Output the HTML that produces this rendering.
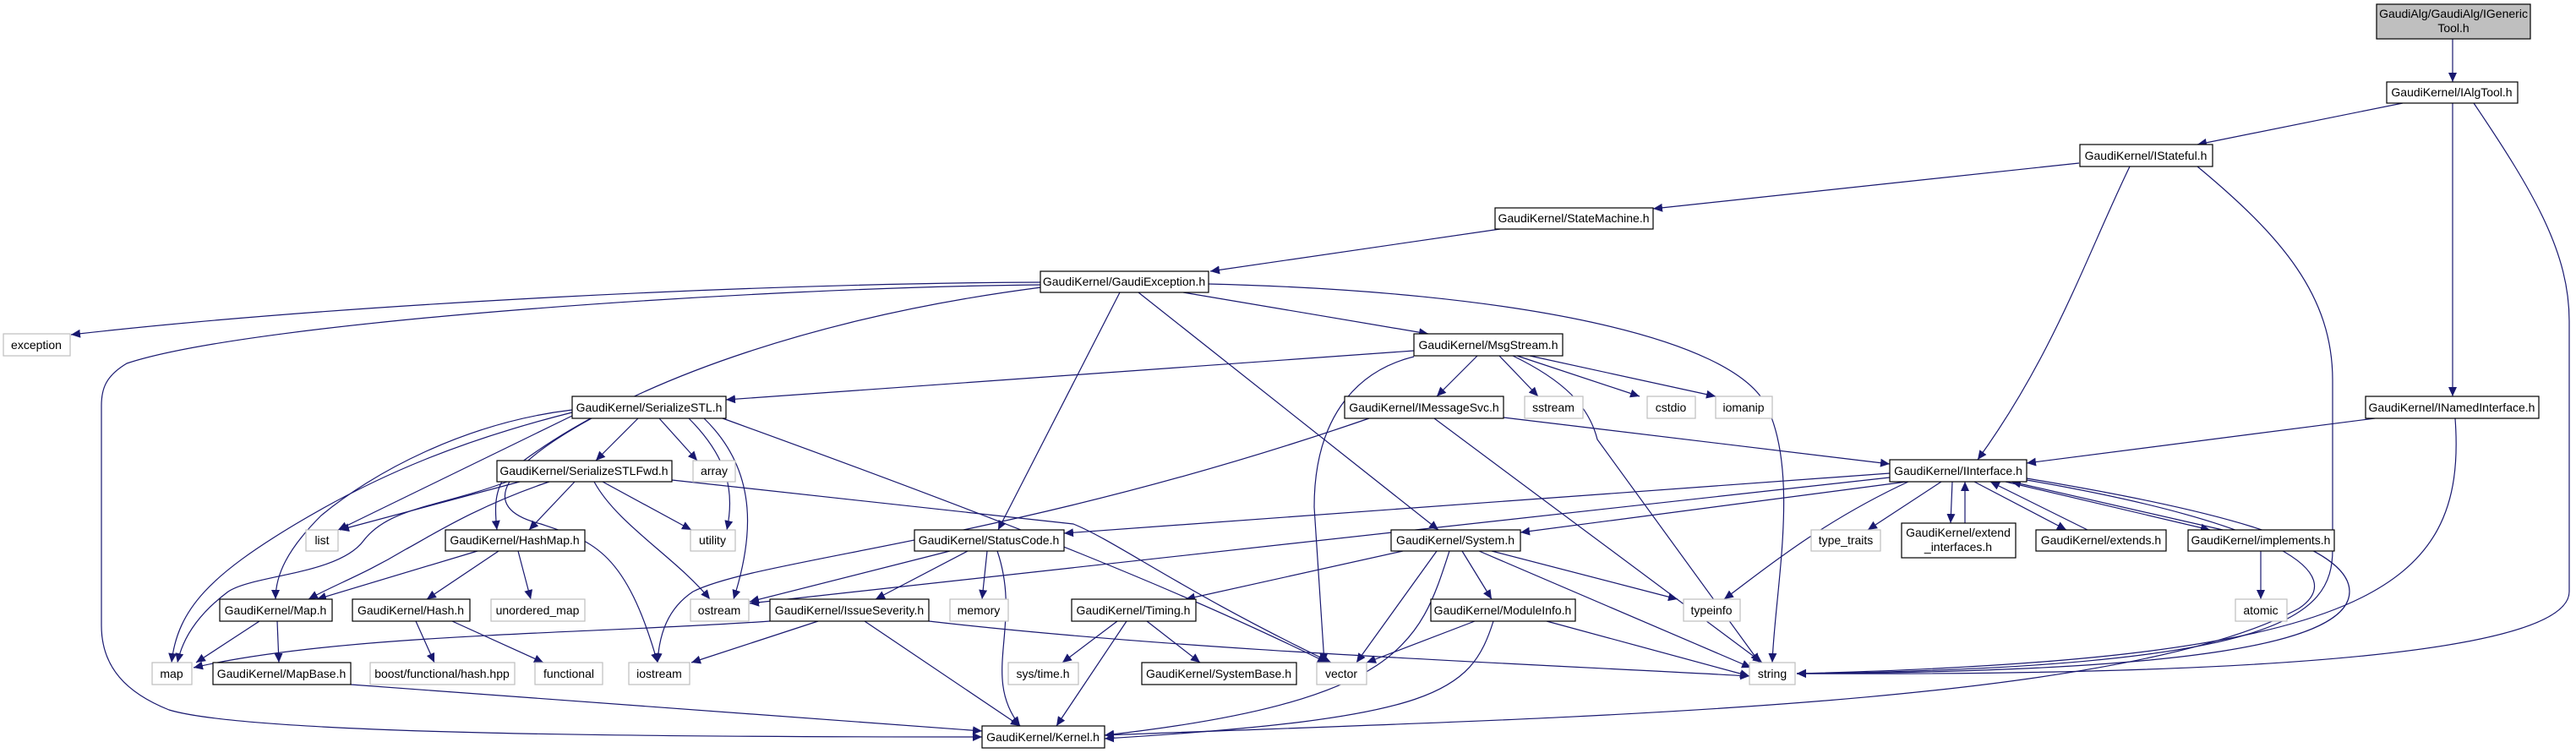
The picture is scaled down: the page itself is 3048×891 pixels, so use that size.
<!DOCTYPE html>
<html><head><meta charset="utf-8"><style>
html,body{margin:0;padding:0;background:#fff}
svg{display:block}
text{font-family:"Liberation Sans",sans-serif;font-size:14px;fill:#000}
.e{fill:none;stroke:#191970;stroke-width:1.2}
.n{fill:#fff;stroke:#000;stroke-width:1.2}
.g{fill:#fff;stroke:#bfbfbf;stroke-width:1.2}
</style></head><body>
<svg width="3048" height="891" viewBox="0 0 3048 891" xmlns="http://www.w3.org/2000/svg">
<defs><marker id="a" markerUnits="userSpaceOnUse" markerWidth="12" markerHeight="10" refX="11" refY="5" orient="auto"><path d="M0,0 L11,5 L0,10 z" fill="#191970"/></marker></defs>
<g class="e" marker-end="url(#a)">
<path d="M2902,46 L2902,97"/>
<path d="M2843,122 L2600,171"/>
<path d="M2902,122 L2902,469"/>
<path d="M2927,122 C3000,230 3040,300 3040,380 L3040,700 C3040,770 2700,800 2126,797"/>
<path d="M2460,193 L1956,247"/>
<path d="M2520,197 C2470,300 2430,420 2340,544"/>
<path d="M2600,197 C2700,280 2760,350 2760,450 L2760,650 C2760,730 2700,790 2126,797"/>
<path d="M1775,271 L1432,321"/>
<path d="M1232,334 C900,335 400,360 84,396"/>
<path d="M1232,337 C900,340 300,380 150,430 C125,445 120,460 120,480 L120,740 C120,790 150,820 200,840 C300,870 800,872 1162,872"/>
<path d="M1232,340 C1000,370 750,440 600,560 C585,580 585,600 588,627"/>
<path d="M1325,346 L1181,627"/>
<path d="M1347,346 L1702,627"/>
<path d="M1400,346 L1690,395"/>
<path d="M1430,336 C1800,345 2050,400 2090,480 C2130,560 2100,700 2097,784"/>
<path d="M1673,415 L859,473"/>
<path d="M1748,421 L1700,469"/>
<path d="M1774,421 L1820,469"/>
<path d="M1795,421 L1940,469"/>
<path d="M1810,421 L2030,469"/>
<path d="M1790,421 C1850,450 1880,480 1890,520 L2082,784"/>
<path d="M1673,422 C1600,440 1555,500 1555,600 L1567,784"/>
<path d="M1779,494 L2236,549"/>
<path d="M1697,495 L2085,784"/>
<path d="M1620,495 C1200,640 900,660 820,700 C790,720 780,750 778,784"/>
<path d="M755,495 L705,545"/>
<path d="M780,495 L825,545"/>
<path d="M815,495 C860,540 870,580 860,627"/>
<path d="M833,495 C900,560 890,640 868,709"/>
<path d="M855,495 C1200,620 1400,700 1570,784"/>
<path d="M677,488 C550,520 450,560 350,620 C250,680 210,720 203,784"/>
<path d="M677,492 L400,627"/>
<path d="M677,485 C550,500 440,560 380,610 C340,650 326,680 326,709"/>
<path d="M700,495 C600,550 560,600 640,620 C700,640 740,650 778,784"/>
<path d="M615,570 L402,627"/>
<path d="M600,570 C520,600 460,600 430,640 C400,680 300,680 270,700 C230,730 215,760 210,784"/>
<path d="M650,570 C560,600 500,640 480,650 C430,680 400,690 365,709"/>
<path d="M680,570 L626,627"/>
<path d="M713,570 L818,627"/>
<path d="M703,570 C730,620 800,660 840,709"/>
<path d="M795,568 L1270,620 C1320,640 1400,700 1575,784"/>
<path d="M565,652 L375,709"/>
<path d="M590,652 L505,709"/>
<path d="M613,652 L628,709"/>
<path d="M307,735 L232,784"/>
<path d="M328,735 L330,784"/>
<path d="M492,735 L514,784"/>
<path d="M535,735 L643,784"/>
<path d="M415,810 L1162,865"/>
<path d="M1124,652 L887,712"/>
<path d="M1145,652 L1036,709"/>
<path d="M1168,652 L1162,709"/>
<path d="M1180,652 C1210,740 1160,800 1207,859"/>
<path d="M911,735 C700,750 400,750 229,790"/>
<path d="M968,735 L818,784"/>
<path d="M1023,735 L1207,859"/>
<path d="M1099,735 C1400,770 1800,785 2070,800"/>
<path d="M1322,735 L1257,784"/>
<path d="M1333,735 L1250,859"/>
<path d="M1357,735 L1420,784"/>
<path d="M1660,652 L1403,709"/>
<path d="M1700,652 L1605,784"/>
<path d="M1715,652 C1680,760 1660,830 1307,870"/>
<path d="M1730,652 L1765,709"/>
<path d="M1765,652 L1985,709"/>
<path d="M1750,652 L2072,790"/>
<path d="M1745,735 L1617,784"/>
<path d="M1767,735 C1740,820 1700,850 1307,874"/>
<path d="M1830,735 L2070,800"/>
<path d="M2236,560 L1259,631"/>
<path d="M2236,565 L887,714"/>
<path d="M2256,570 L1799,630"/>
<path d="M2258,570 C2150,620 2080,680 2040,709"/>
<path d="M2297,570 L2210,627"/>
<path d="M2310,570 L2308,619"/>
<path d="M2325,619 L2325,570"/>
<path d="M2336,570 L2445,627"/>
<path d="M2470,627 L2355,570"/>
<path d="M2373,570 L2615,627"/>
<path d="M2630,627 L2380,570"/>
<path d="M2398,566 C2600,600 2780,640 2780,700 C2780,760 2600,795 2126,797"/>
<path d="M2398,568 C2700,620 2780,680 2720,720 C2500,840 1800,850 1307,870"/>
<path d="M2675,652 L2675,709"/>
<path d="M2810,495 L2398,548"/>
<path d="M2905,495 C2920,700 2800,780 2126,797"/>
</g>
<g>
<rect x="2812" y="5" width="182" height="41" style="fill:#bfbfbf;stroke:#000;stroke-width:1.2"/>
<text x="2903" y="21" text-anchor="middle">GaudiAlg/GaudiAlg/IGeneric</text>
<text x="2903" y="38" text-anchor="middle">Tool.h</text>
</g>
<g text-anchor="middle">
<rect class="n" x="2824" y="97" width="155" height="25"/><text x="2901" y="114">GaudiKernel/IAlgTool.h</text>
<rect class="n" x="2461" y="171" width="157" height="26"/><text x="2539" y="189">GaudiKernel/IStateful.h</text>
<rect class="n" x="1769" y="246" width="187" height="25"/><text x="1862" y="263">GaudiKernel/StateMachine.h</text>
<rect class="n" x="1231" y="321" width="199" height="25"/><text x="1330" y="338">GaudiKernel/GaudiException.h</text>
<rect class="g" x="4" y="395" width="79" height="26"/><text x="43" y="413">exception</text>
<rect class="n" x="1673" y="395" width="176" height="26"/><text x="1761" y="413">GaudiKernel/MsgStream.h</text>
<rect class="n" x="677" y="469" width="182" height="26"/><text x="768" y="487">GaudiKernel/SerializeSTL.h</text>
<rect class="n" x="1591" y="469" width="188" height="26"/><text x="1685" y="487">GaudiKernel/IMessageSvc.h</text>
<rect class="g" x="1804" y="469" width="69" height="26"/><text x="1838" y="487">sstream</text>
<rect class="g" x="1949" y="469" width="57" height="26"/><text x="1977" y="487">cstdio</text>
<rect class="g" x="2030" y="469" width="67" height="26"/><text x="2063" y="487">iomanip</text>
<rect class="n" x="2799" y="469" width="205" height="26"/><text x="2901" y="487">GaudiKernel/INamedInterface.h</text>
<rect class="n" x="588" y="545" width="207" height="25"/><text x="691" y="562">GaudiKernel/SerializeSTLFwd.h</text>
<rect class="g" x="820" y="545" width="50" height="25"/><text x="845" y="562">array</text>
<rect class="n" x="2236" y="544" width="162" height="26"/><text x="2317" y="562">GaudiKernel/IInterface.h</text>
<rect class="g" x="362" y="627" width="38" height="25"/><text x="381" y="644">list</text>
<rect class="n" x="527" y="627" width="165" height="25"/><text x="609" y="644">GaudiKernel/HashMap.h</text>
<rect class="g" x="817" y="627" width="53" height="25"/><text x="843" y="644">utility</text>
<rect class="n" x="1082" y="627" width="177" height="25"/><text x="1170" y="644">GaudiKernel/StatusCode.h</text>
<rect class="n" x="1646" y="627" width="153" height="25"/><text x="1722" y="644">GaudiKernel/System.h</text>
<rect class="g" x="2143" y="627" width="82" height="25"/><text x="2184" y="644">type_traits</text>
<rect class="n" x="2250" y="619" width="135" height="41"/><text x="2317" y="635">GaudiKernel/extend</text><text x="2317" y="652">_interfaces.h</text>
<rect class="n" x="2409" y="627" width="154" height="25"/><text x="2486" y="644">GaudiKernel/extends.h</text>
<rect class="n" x="2589" y="627" width="173" height="25"/><text x="2675" y="644">GaudiKernel/implements.h</text>
<rect class="n" x="260" y="709" width="133" height="26"/><text x="326" y="727">GaudiKernel/Map.h</text>
<rect class="n" x="417" y="709" width="139" height="26"/><text x="486" y="727">GaudiKernel/Hash.h</text>
<rect class="g" x="581" y="709" width="111" height="26"/><text x="636" y="727">unordered_map</text>
<rect class="g" x="817" y="709" width="69" height="26"/><text x="851" y="727">ostream</text>
<rect class="n" x="911" y="709" width="188" height="26"/><text x="1005" y="727">GaudiKernel/IssueSeverity.h</text>
<rect class="g" x="1124" y="709" width="69" height="26"/><text x="1158" y="727">memory</text>
<rect class="n" x="1268" y="709" width="147" height="26"/><text x="1341" y="727">GaudiKernel/Timing.h</text>
<rect class="n" x="1693" y="709" width="171" height="26"/><text x="1778" y="727">GaudiKernel/ModuleInfo.h</text>
<rect class="g" x="1992" y="709" width="67" height="26"/><text x="2025" y="727">typeinfo</text>
<rect class="g" x="2645" y="709" width="61" height="26"/><text x="2675" y="727">atomic</text>
<rect class="g" x="180" y="784" width="47" height="26"/><text x="203" y="802">map</text>
<rect class="n" x="252" y="784" width="163" height="26"/><text x="333" y="802">GaudiKernel/MapBase.h</text>
<rect class="g" x="438" y="784" width="171" height="26"/><text x="523" y="802">boost/functional/hash.hpp</text>
<rect class="g" x="633" y="784" width="80" height="26"/><text x="673" y="802">functional</text>
<rect class="g" x="744" y="784" width="72" height="26"/><text x="780" y="802">iostream</text>
<rect class="g" x="1193" y="784" width="83" height="26"/><text x="1234" y="802">sys/time.h</text>
<rect class="n" x="1351" y="784" width="183" height="26"/><text x="1442" y="802">GaudiKernel/SystemBase.h</text>
<rect class="g" x="1558" y="784" width="59" height="26"/><text x="1587" y="802">vector</text>
<rect class="g" x="2070" y="784" width="54" height="26"/><text x="2097" y="802">string</text>
<rect class="n" x="1162" y="859" width="145" height="26"/><text x="1234" y="877">GaudiKernel/Kernel.h</text>
</g>
</svg>
</body></html>
